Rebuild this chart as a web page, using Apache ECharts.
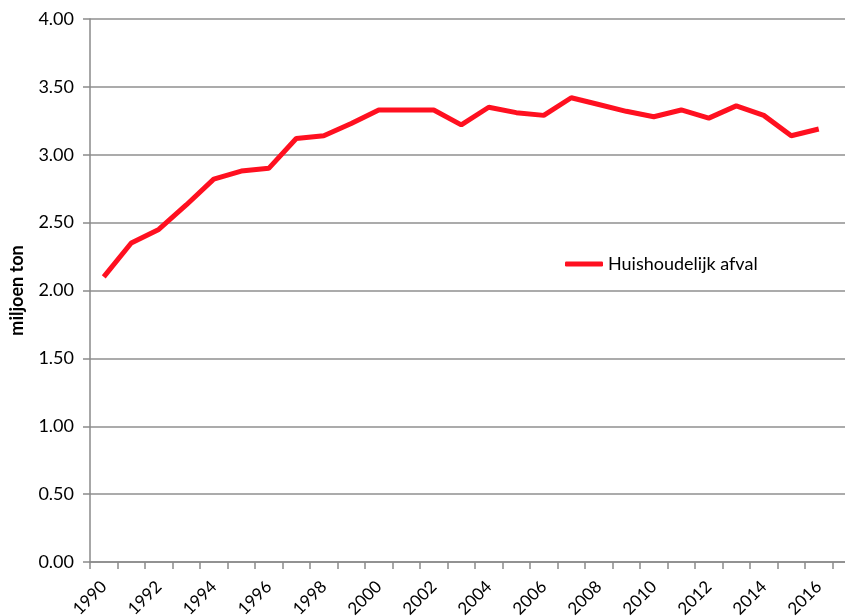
<!DOCTYPE html>
<html>
<head>
<meta charset="utf-8">
<script src="https://cdn.jsdelivr.net/npm/echarts@6/dist/echarts.min.js"></script>
<style>
html,body{margin:0;padding:0;background:#fff;}
#chart{width:845px;height:616px;}
</style>
</head>
<body>
<div id="chart"></div>
<script>
var years = ['1990','1991','1992','1993','1994','1995','1996','1997','1998','1999','2000','2001','2002','2003','2004','2005','2006','2007','2008','2009','2010','2011','2012','2013','2014','2015','2016'];
var huishoudelijkAfval = [2.10,2.35,2.45,2.63,2.82,2.88,2.90,3.12,3.14,3.23,3.33,3.33,3.33,3.22,3.35,3.31,3.29,3.42,3.37,3.32,3.28,3.33,3.27,3.36,3.29,3.14,3.19];
var seriesName = 'Huishoudelijk afval';
var yAxisName = 'miljoen ton';

var chart = echarts.init(document.getElementById('chart'), null, {renderer:'canvas'});
var font = 'Lato, "Open Sans", sans-serif';
chart.setOption({
  animation:false,
  backgroundColor:'#fff',
  textStyle:{fontFamily:font},
  grid:{left:90, top:19, width:770, height:543, containLabel:false, outerBoundsMode:'none'},
  legend:{
    data:[seriesName],
    left:560, top:250,
    icon:'roundRect',
    itemWidth:38, itemHeight:5,
    itemGap:6,
    textStyle:{fontFamily:font, fontSize:18, color:'#000'}
  },
  xAxis:{
    type:'category',
    data:years,
    max:27,
    boundaryGap:true,
    axisLine:{lineStyle:{color:'#8a8a8a', width:1.5}},
    axisTick:{show:true, alignWithLabel:false, interval:0, length:7, lineStyle:{color:'#8a8a8a', width:1.5}},
    axisLabel:{interval:1, rotate:45, fontSize:17, color:'#000', margin:22, fontFamily:font},
    splitLine:{show:false}
  },
  yAxis:{
    type:'value',
    min:0, max:4, interval:0.5,
    name:yAxisName,
    nameLocation:'middle',
    nameGap:64,
    nameRotate:90,
    nameTextStyle:{fontFamily:font, fontSize:18, fontWeight:'bold', color:'#000'},
    axisLine:{show:true, lineStyle:{color:'#8a8a8a', width:1.5}},
    axisTick:{show:true, length:7, lineStyle:{color:'#8a8a8a', width:1.5}},
    axisLabel:{fontSize:18, color:'#000', margin:16, fontFamily:font, formatter:function(v){return v.toFixed(2);}},
    splitLine:{show:true, lineStyle:{color:'#8f8f8f', width:1.5}}
  },
  series:[{
    name:seriesName,
    type:'line',
    data:huishoudelijkAfval,
    symbol:'none',
    lineStyle:{color:'#ff1020', width:5},
    itemStyle:{color:'#ff1020'}
  }]
});
</script>
</body>
</html>
